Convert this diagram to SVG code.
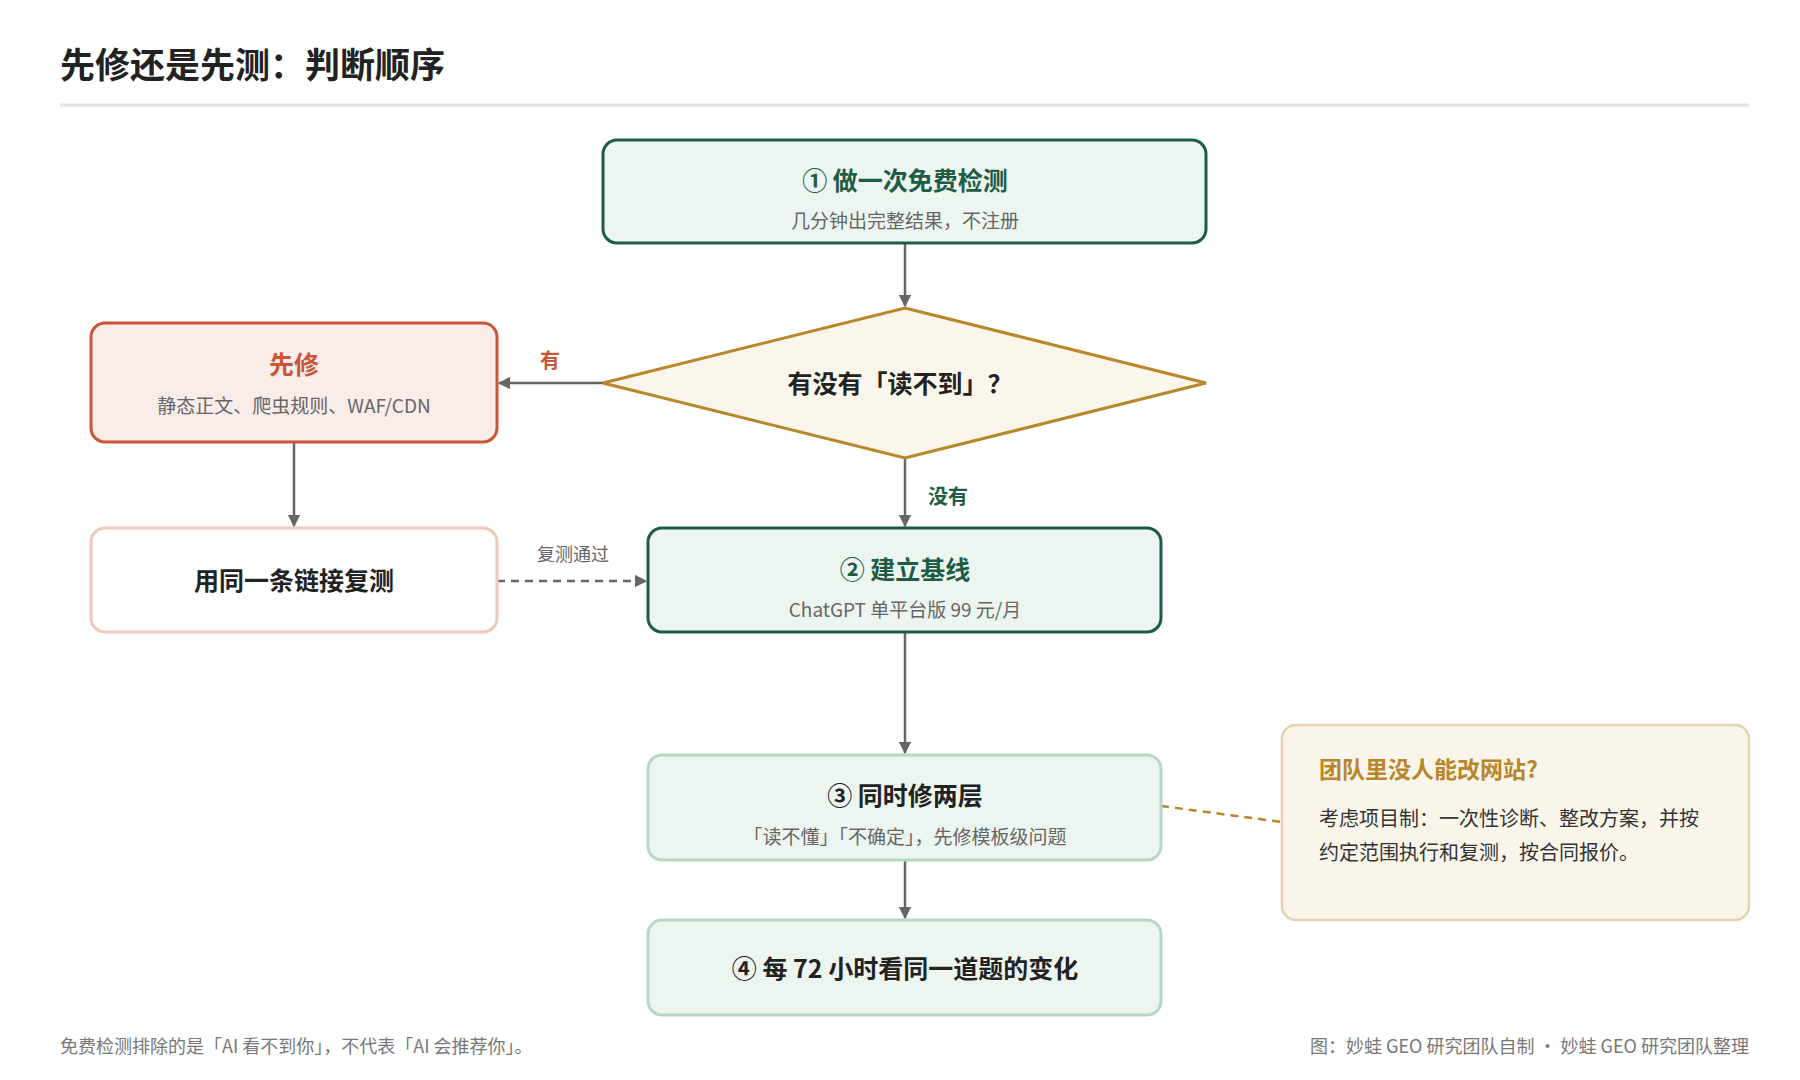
<svg xmlns="http://www.w3.org/2000/svg" width="1800" height="1080" viewBox="0 0 1800 1080">
<defs>
<marker id="ah" viewBox="0 0 10 10" refX="9" refY="5" markerWidth="5" markerHeight="5" orient="auto"><path d="M0,0 L10,5 L0,10 z" fill="#666"/></marker>
<style>
text{font-family:"Noto Sans CJK SC","Noto Sans",sans-serif}
.t{font-size:25px;font-weight:700;text-anchor:middle}
.s{font-size:19px;fill:#666;text-anchor:middle}
.g{fill:#1e5c45}
.ln{stroke:#666;stroke-width:2.5;fill:none}
</style>
</defs>
<rect width="1800" height="1080" fill="#fff"/>
<text x="60" y="78" font-size="35" font-weight="700" fill="#222">先修还是先测：判断顺序</text>
<line x1="60" y1="105" x2="1749" y2="105" stroke="#e2e2e2" stroke-width="3"/>
<g id="connectors">
<line class="ln" x1="905" y1="243" x2="905" y2="306" marker-end="url(#ah)"/>
<line class="ln" x1="603" y1="383" x2="499" y2="383" marker-end="url(#ah)"/>
<line class="ln" x1="905" y1="458" x2="905" y2="526" marker-end="url(#ah)"/>
<line class="ln" x1="294" y1="442" x2="294" y2="526" marker-end="url(#ah)"/>
<line class="ln" x1="497" y1="581" x2="646" y2="581" stroke-dasharray="8,6" marker-end="url(#ah)"/>
<line class="ln" x1="905" y1="632" x2="905" y2="753" marker-end="url(#ah)"/>
<line class="ln" x1="905" y1="860" x2="905" y2="918" marker-end="url(#ah)"/>
<line x1="1161" y1="806" x2="1282" y2="822" stroke="#b8862b" stroke-width="2.5" stroke-dasharray="8,6"/>
<text x="550" y="368" font-size="20" font-weight="700" fill="#c9553a" text-anchor="middle">有</text>
<text x="948" y="504" font-size="20" font-weight="700" fill="#1e5c45" text-anchor="middle">没有</text>
<text x="573" y="561" font-size="18" fill="#666" text-anchor="middle">复测通过</text>
</g>
<g id="n1">
<rect x="603" y="140" width="603" height="103" rx="14" fill="#edf5f0" stroke="#1e5c45" stroke-width="3"/>
<text class="t g" x="905" y="190">① 做一次免费检测</text>
<text class="s" x="905" y="228">几分钟出完整结果，不注册</text>
</g>
<g id="d1">
<polygon points="905,308 1206,383 905,458 603,383" fill="#faf6ec" stroke="#b8862b" stroke-width="3"/>
<text class="t" x="900" y="393" fill="#222">有没有「读不到」？</text>
</g>
<g id="fix">
<rect x="91" y="323" width="406" height="119" rx="14" fill="#f9ece9" stroke="#c9553a" stroke-width="3"/>
<text class="t" x="294" y="374" fill="#c9553a">先修</text>
<text class="s" x="294" y="413">静态正文、爬虫规则、WAF/CDN</text>
</g>
<g id="retest">
<rect x="91" y="528" width="406" height="104" rx="14" fill="#fff" stroke="#f0c9bc" stroke-width="3"/>
<text class="t" x="294" y="590" fill="#222">用同一条链接复测</text>
</g>
<g id="n2">
<rect x="648" y="528" width="513" height="104" rx="14" fill="#edf5f0" stroke="#1e5c45" stroke-width="3"/>
<text class="t g" x="905" y="579">② 建立基线</text>
<text class="s" x="905" y="617">ChatGPT 单平台版 99 元/月</text>
</g>
<g id="n3">
<rect x="648" y="755" width="513" height="105" rx="14" fill="#edf5f0" stroke="#b7d8c6" stroke-width="3"/>
<text class="t" x="905" y="805" fill="#222">③ 同时修两层</text>
<text class="s" x="905" y="844">「读不懂」「不确定」，先修模板级问题</text>
</g>
<g id="n4">
<rect x="648" y="920" width="513" height="95" rx="14" fill="#edf5f0" stroke="#b7d8c6" stroke-width="3"/>
<text class="t" x="905" y="978" fill="#222">④ 每 72 小时看同一道题的变化</text>
</g>
<g id="note">
<rect x="1282" y="725" width="467" height="195" rx="14" fill="#faf5ea" stroke="#e6d3b0" stroke-width="2.5"/>
<text x="1319" y="778" font-size="23" font-weight="700" fill="#b8862b">团队里没人能改网站?</text>
<text x="1319" y="826" font-size="20" fill="#333">考虑项目制：一次性诊断、整改方案，并按</text>
<text x="1319" y="860" font-size="20" fill="#333">约定范围执行和复测，按合同报价。</text>
</g>
<text x="60" y="1053" font-size="18" fill="#777">免费检测排除的是「AI 看不到你」，不代表「AI 会推荐你」。</text>
<text x="1749" y="1053" font-size="18" fill="#777" text-anchor="end">图：妙蛙 GEO 研究团队自制 · 妙蛙 GEO 研究团队整理</text>
</svg>
